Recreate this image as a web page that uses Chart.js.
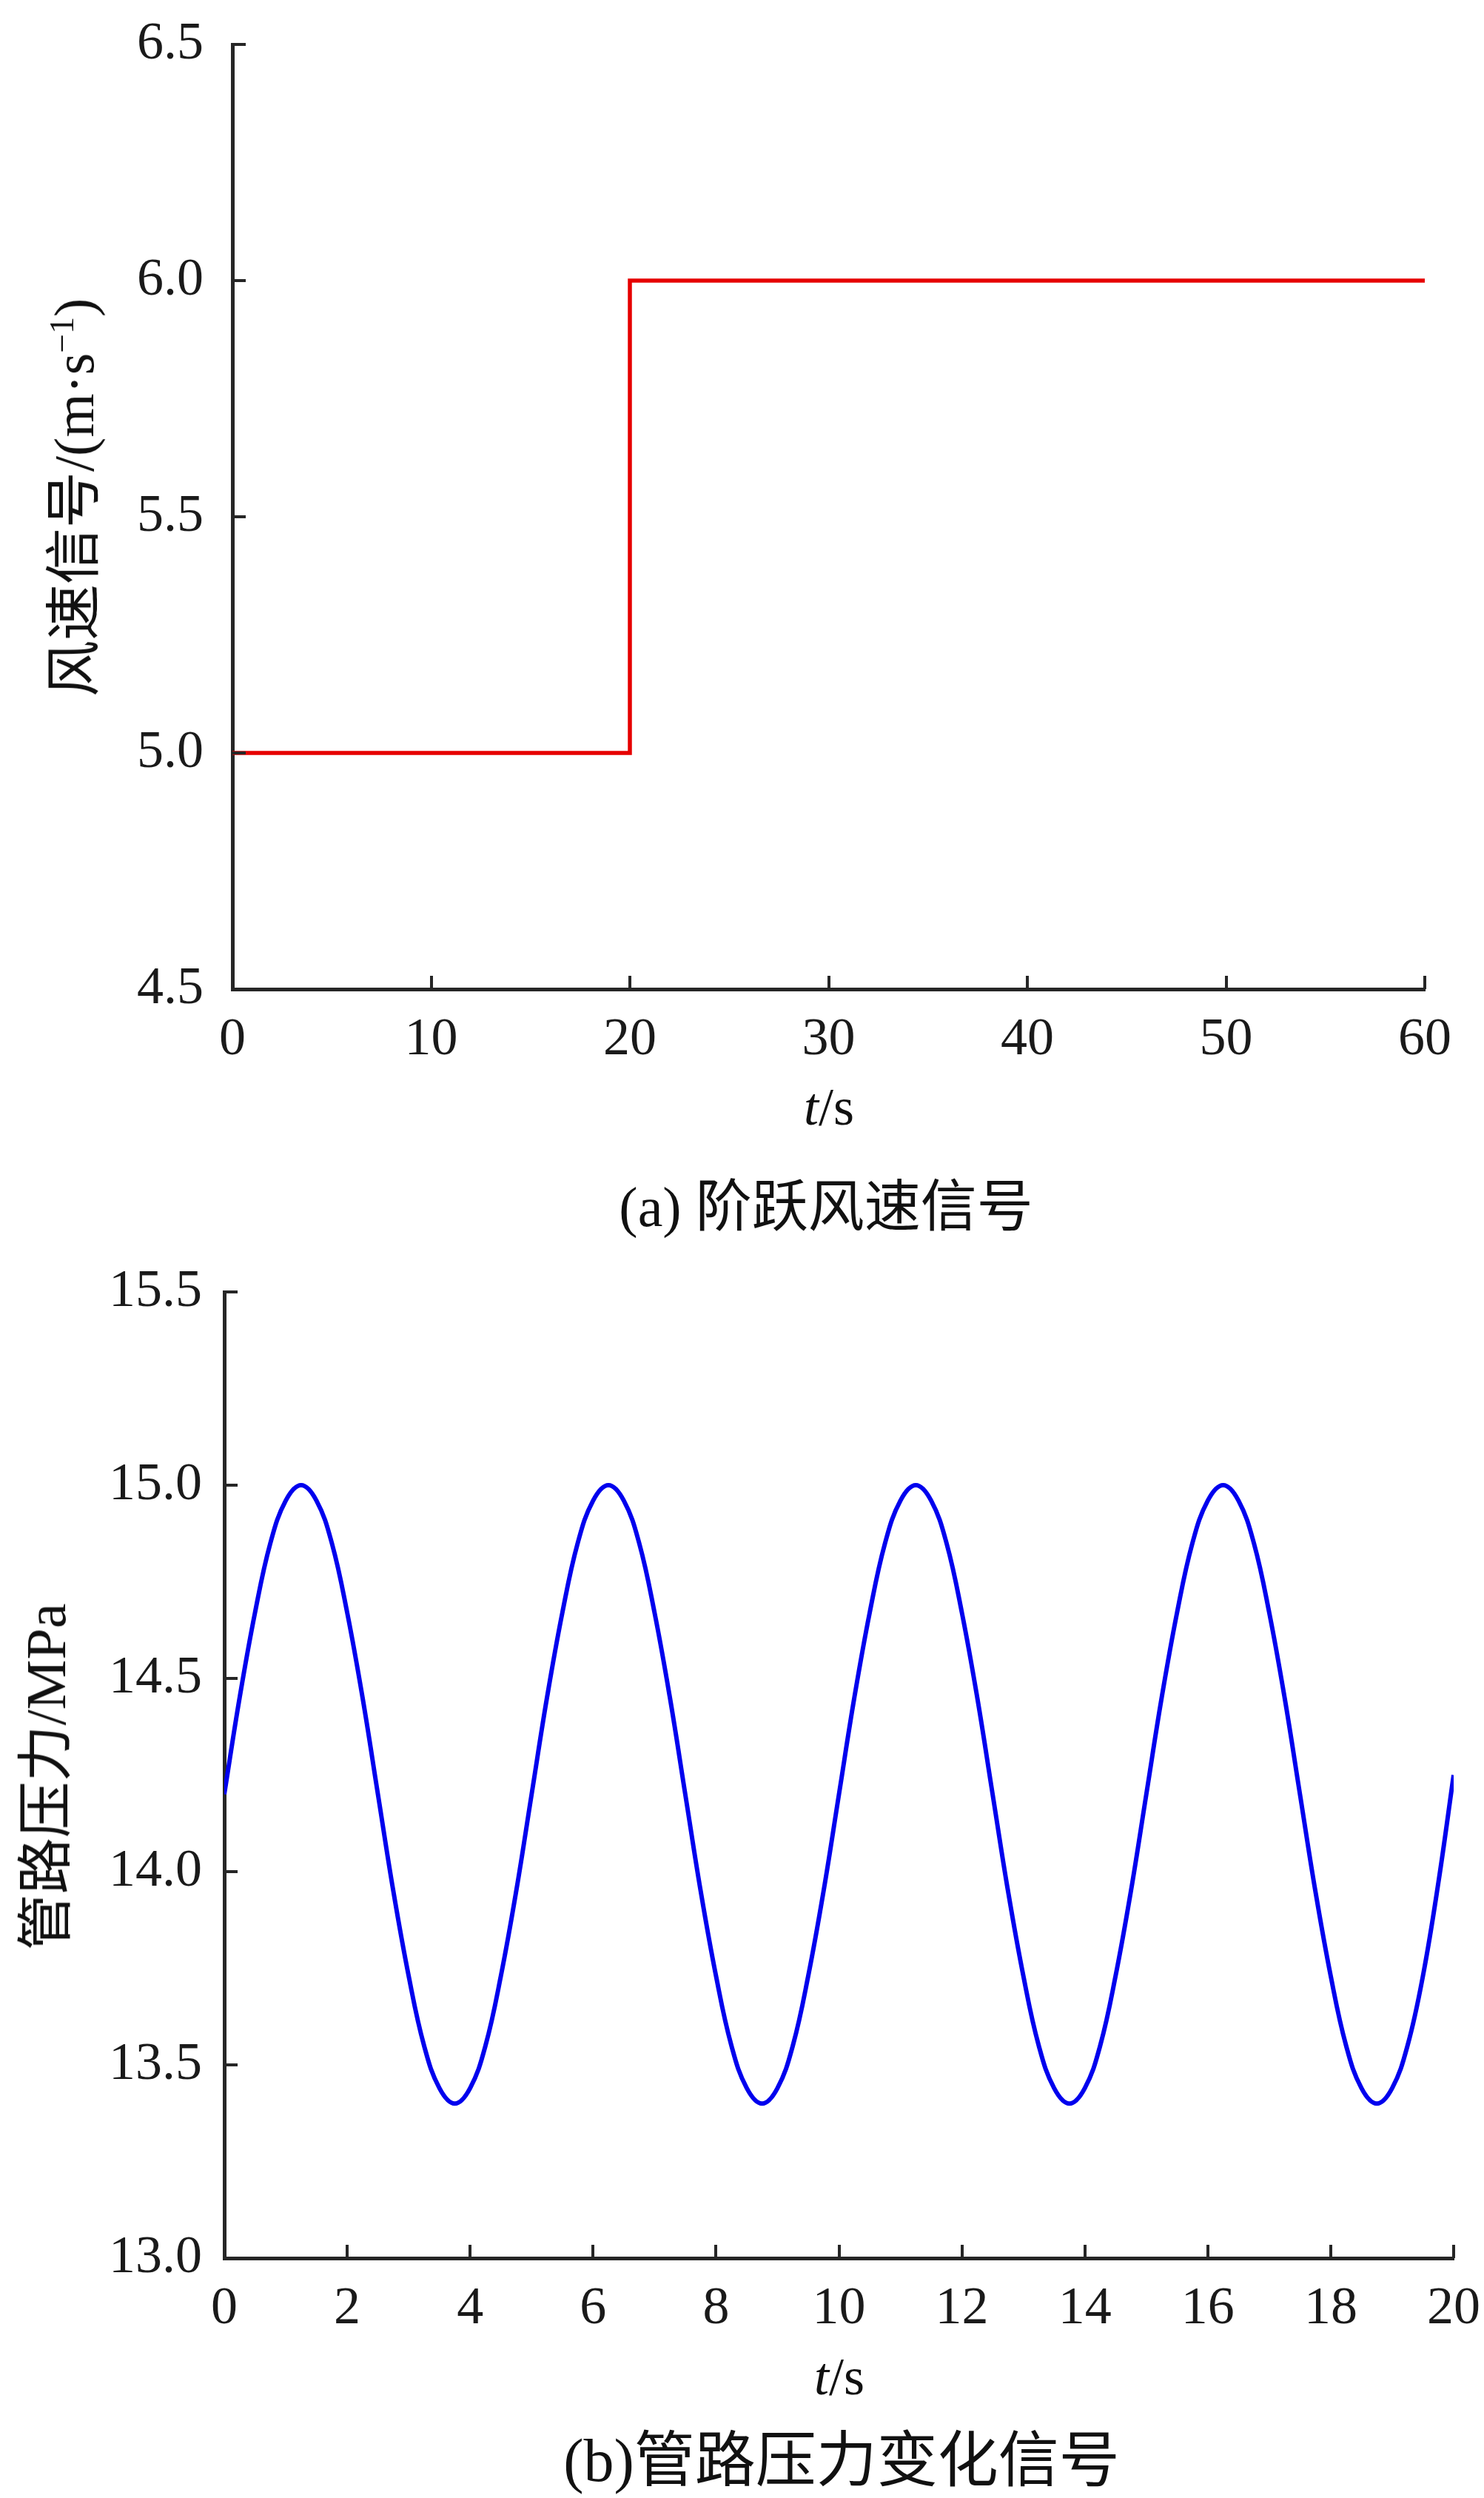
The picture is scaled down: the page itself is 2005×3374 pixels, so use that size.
<!DOCTYPE html>
<html lang="zh-CN">
<head>
<meta charset="utf-8">
<title>阶跃风速信号 / 管路压力变化信号</title>
<script src="https://cdn.jsdelivr.net/npm/chart.js@4.4.1/dist/chart.umd.min.js"></script>
<style>
    html, body { margin: 0; padding: 0; background: #fff; }
    body { position: relative; width: 2005px; height: 3374px; overflow: hidden; }
    canvas { position: absolute; left: 0; }
    #chartVento { top: 0; }
    #chartPressao { top: 1690px; }
    .texto {
        position: absolute;
        transform: translate(-50%, -50%);
        white-space: nowrap;
        font-family: 'Liberation Serif', 'Noto Sans CJK SC', serif;
        color: #111;
        line-height: 1;
    }
    .vertical { transform: translate(-50%, -50%) rotate(-90deg); }
    sup { font-size: 0.6em; vertical-align: 0.6em; line-height: 0; }
</style>
</head>
<body>
<canvas id="chartVento" width="2005" height="1456"></canvas>
<canvas id="chartPressao" width="2005" height="1480"></canvas>

<div class="texto vertical" style="left:100px; top:672px; font-size:76px;">风速信号/(m·s<sup>−1</sup>)</div>
<div class="texto" style="left:1120px; top:1495px; font-size:72px;"><i>t</i>/s</div>
<div class="texto" style="left:1116px; top:1630px; font-size:76px;">(a) 阶跃风速信号</div>

<div class="texto vertical" style="left:62px; top:2400px; font-size:76px;">管路压力/MPa</div>
<div class="texto" style="left:1134px; top:3210px; font-size:72px;"><i>t</i>/s</div>
<div class="texto" style="left:1137px; top:3324px; font-size:82px;">(b)管路压力变化信号</div>

<script>
// (a) sinal de vento em degrau
const tempoVento = [0, 20, 20, 60];
const velocidadeVento = [5.0, 5.0, 6.0, 6.0];
const ticksVentoX = [0, 10, 20, 30, 40, 50, 60];
const ticksVentoY = [4.5, 5.0, 5.5, 6.0, 6.5];

// (b) pressão na tubulação (passo de 0.25 s)
const tempoPressao = [
    0, 0.25, 0.5, 0.75, 1, 1.25, 1.5, 1.75, 2, 2.25, 2.5, 2.75, 3, 3.25, 3.5, 3.75, 4, 4.25, 4.5, 4.75,
    5, 5.25, 5.5, 5.75, 6, 6.25, 6.5, 6.75, 7, 7.25, 7.5, 7.75, 8, 8.25, 8.5, 8.75, 9, 9.25, 9.5, 9.75,
    10, 10.25, 10.5, 10.75, 11, 11.25, 11.5, 11.75, 12, 12.25, 12.5, 12.75, 13, 13.25, 13.5, 13.75, 14, 14.25, 14.5, 14.75,
    15, 15.25, 15.5, 15.75, 16, 16.25, 16.5, 16.75, 17, 17.25, 17.5, 17.75, 18, 18.25, 18.5, 18.75, 19, 19.25, 19.5, 19.75,
    20
];
const valorPressao = [
    14.20, 14.45, 14.67, 14.85, 14.96, 15.00, 14.96, 14.85, 14.67, 14.45, 14.20, 13.95, 13.73, 13.55, 13.44, 13.40, 13.44, 13.55, 13.73, 13.95,
    14.20, 14.45, 14.67, 14.85, 14.96, 15.00, 14.96, 14.85, 14.67, 14.45, 14.20, 13.95, 13.73, 13.55, 13.44, 13.40, 13.44, 13.55, 13.73, 13.95,
    14.20, 14.45, 14.67, 14.85, 14.96, 15.00, 14.96, 14.85, 14.67, 14.45, 14.20, 13.95, 13.73, 13.55, 13.44, 13.40, 13.44, 13.55, 13.73, 13.95,
    14.20, 14.45, 14.67, 14.85, 14.96, 15.00, 14.96, 14.85, 14.67, 14.45, 14.20, 13.95, 13.73, 13.55, 13.44, 13.40, 13.44, 13.55, 13.73, 13.97,
    14.25
];
const ticksPressaoX = [0, 2, 4, 6, 8, 10, 12, 14, 16, 18, 20];
const ticksPressaoY = [13.0, 13.5, 14.0, 14.5, 15.0, 15.5];

const corEixo = '#262626';
const fonteTicks = { family: "'Liberation Serif', 'Times New Roman', serif", size: 72 };

// ticks para dentro da área do gráfico
const ticksInternos = {
    id: 'ticksInternos',
    afterDraw(chart) {
        const ctx = chart.ctx;
        const sx = chart.scales.x;
        const sy = chart.scales.y;
        ctx.save();
        ctx.strokeStyle = corEixo;
        ctx.lineWidth = 4;
        ctx.beginPath();
        sx.ticks.forEach(t => {
            const px = Math.round(sx.getPixelForValue(t.value));
            ctx.moveTo(px, sy.bottom);
            ctx.lineTo(px, sy.bottom - 18);
        });
        sy.ticks.forEach(t => {
            const py = Math.round(sy.getPixelForValue(t.value));
            ctx.moveTo(sx.left, py);
            ctx.lineTo(sx.left + 18, py);
        });
        ctx.stroke();
        ctx.restore();
    }
};

function escala(lista, larguraY, alturaX, eixo, padding) {
    const ehX = eixo === 'x';
    return {
        type: 'linear',
        min: lista[0],
        max: lista[lista.length - 1],
        afterBuildTicks: (s) => { s.ticks = lista.map(v => ({ value: v })); },
        grid: { display: false, drawTicks: false },
        border: { display: true, color: corEixo, width: 5 },
        ticks: {
            font: fonteTicks,
            color: '#1a1a1a',
            padding: padding,
            maxRotation: 0,
            autoSkip: false,
            callback: function(value) {
                return ehX ? String(value) : value.toFixed(1);
            }
        },
        afterFit: (s) => {
            if (ehX) {
                s.height = alturaX;
                s.paddingLeft = 0;
                s.paddingRight = 0;
            } else {
                s.width = larguraY;
                s.paddingTop = 0;
                s.paddingBottom = 0;
            }
        }
    };
}

function opcoesBase(xTicks, yTicks, larguraY, padY, padding) {
    return {
        responsive: false,
        animation: false,
        devicePixelRatio: 1,
        layout: { padding: padding },
        plugins: {
            legend: { display: false },
            tooltip: { enabled: false }
        },
        scales: {
            x: escala(xTicks, larguraY, 120, 'x', 26),
            y: escala(yTicks, larguraY, 120, 'y', padY)
        }
    };
}

function criarGraficoVento() {
    const canvas = document.getElementById('chartVento');
    if (!canvas) return;
    try {
        new Chart(canvas, {
            type: 'line',
            data: {
                datasets: [{
                    label: '风速信号',
                    data: tempoVento.map((t, i) => ({ x: t, y: velocidadeVento[i] })),
                    borderColor: '#e60000',
                    borderWidth: 5.5,
                    pointRadius: 0,
                    tension: 0,
                    fill: false
                }]
            },
            options: opcoesBase(ticksVentoX, ticksVentoY, 314, 39, { top: 60, left: 0, right: 80, bottom: 0 }),
            plugins: [ticksInternos]
        });
        console.log('✅ Gráfico vento criado');
    } catch (error) {
        console.error('❌ Erro no gráfico vento:', error);
    }
}

function criarGraficoPressao() {
    const canvas = document.getElementById('chartPressao');
    if (!canvas) return;
    try {
        new Chart(canvas, {
            type: 'line',
            data: {
                datasets: [{
                    label: '管路压力',
                    data: tempoPressao.map((t, i) => ({ x: t, y: valorPressao[i] })),
                    borderColor: '#0000ee',
                    borderWidth: 6,
                    pointRadius: 0,
                    tension: 0.4,
                    fill: false
                }]
            },
            options: opcoesBase(ticksPressaoX, ticksPressaoY, 303, 30, { top: 55, left: 0, right: 41, bottom: 0 }),
            plugins: [ticksInternos]
        });
        console.log('✅ Gráfico pressão criado');
    } catch (error) {
        console.error('❌ Erro no gráfico pressão:', error);
    }
}

criarGraficoVento();
criarGraficoPressao();
</script>
</body>
</html>
